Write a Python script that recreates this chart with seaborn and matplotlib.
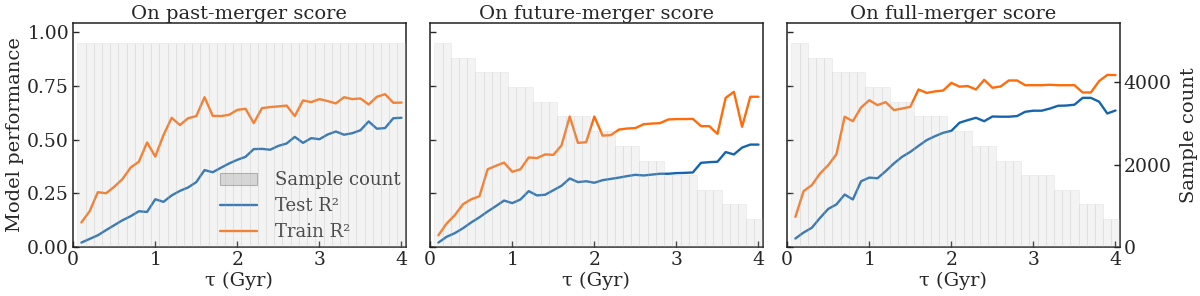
import numpy as np
import pandas as pd
import matplotlib
matplotlib.use("Agg")
import matplotlib.pyplot as plt
from matplotlib.patches import Patch
import seaborn as sns

# ---------------- data ----------------
tau = [round(0.1 * i, 1) for i in range(1, 41)]

past_test = [0.020, 0.037, 0.054, 0.078, 0.101, 0.124, 0.143, 0.166, 0.163, 0.222,
             0.210, 0.240, 0.261, 0.277, 0.302, 0.358, 0.348, 0.369, 0.389, 0.406,
             0.420, 0.456, 0.457, 0.453, 0.471, 0.482, 0.513, 0.485, 0.507, 0.502,
             0.524, 0.538, 0.523, 0.530, 0.544, 0.585, 0.551, 0.554, 0.600, 0.602]
past_train = [0.114, 0.166, 0.255, 0.250, 0.280, 0.316, 0.370, 0.397, 0.487, 0.421,
              0.521, 0.602, 0.568, 0.600, 0.610, 0.698, 0.611, 0.610, 0.616, 0.639,
              0.644, 0.577, 0.647, 0.652, 0.655, 0.659, 0.610, 0.683, 0.675, 0.689,
              0.680, 0.669, 0.698, 0.689, 0.692, 0.664, 0.700, 0.712, 0.672, 0.673]

future_test = [0.020, 0.047, 0.064, 0.087, 0.114, 0.138, 0.165, 0.190, 0.216, 0.204,
               0.221, 0.260, 0.240, 0.243, 0.264, 0.285, 0.319, 0.302, 0.306, 0.299,
               0.311, 0.317, 0.323, 0.330, 0.336, 0.333, 0.337, 0.341, 0.341, 0.344,
               0.345, 0.347, 0.392, 0.395, 0.397, 0.442, 0.431, 0.463, 0.477, 0.477]
future_train = [0.054, 0.109, 0.148, 0.199, 0.222, 0.236, 0.362, 0.378, 0.393, 0.350,
                0.362, 0.417, 0.414, 0.431, 0.429, 0.473, 0.608, 0.485, 0.488, 0.608,
                0.519, 0.521, 0.547, 0.552, 0.554, 0.572, 0.575, 0.577, 0.594, 0.596,
                0.596, 0.597, 0.563, 0.563, 0.527, 0.695, 0.723, 0.560, 0.700, 0.700]

full_test = [0.039, 0.067, 0.089, 0.135, 0.177, 0.198, 0.244, 0.221, 0.306, 0.323,
             0.320, 0.353, 0.389, 0.420, 0.443, 0.471, 0.498, 0.516, 0.532, 0.541,
             0.579, 0.591, 0.602, 0.586, 0.608, 0.607, 0.607, 0.610, 0.630, 0.635,
             0.635, 0.645, 0.658, 0.659, 0.663, 0.695, 0.695, 0.677, 0.622, 0.636]
full_train = [0.140, 0.260, 0.288, 0.342, 0.381, 0.432, 0.607, 0.586, 0.650, 0.684,
              0.661, 0.675, 0.638, 0.645, 0.653, 0.734, 0.718, 0.725, 0.729, 0.765,
              0.747, 0.750, 0.734, 0.779, 0.742, 0.748, 0.776, 0.776, 0.754, 0.754,
              0.754, 0.756, 0.754, 0.754, 0.754, 0.720, 0.720, 0.773, 0.802, 0.801]

past_counts = [4950] * 40
future_counts = [4950, 4950, 4600, 4600, 4600, 4240, 4240, 4240, 4240, 3880,
                 3880, 3880, 3530, 3530, 3530, 3170, 3170, 3170, 3170, 2810,
                 2810, 2810, 2460, 2460, 2460, 2090, 2090, 2090, 1740, 1740,
                 1740, 1740, 1380, 1380, 1380, 1030, 1030, 1030, 670, 670]
full_counts = [4950, 4950, 4600, 4600, 4600, 4240, 4240, 4240, 4240, 3880,
               3880, 3880, 3530, 3530, 3530, 3170, 3170, 3170, 3170, 2810,
               2810, 2810, 2460, 2460, 2460, 2090, 2090, 2090, 1740, 1740,
               1740, 1740, 1380, 1380, 1380, 1030, 1030, 1030, 670, 670]

titles = ["On past-merger score", "On future-merger score", "On full-merger score"]
x_ticks = [0, 1, 2, 3, 4]
y_ticks = [0.0, 0.25, 0.5, 0.75, 1.0]
count_ticks = [0, 2000, 4000]

panels = [
    (past_test, past_train, past_counts),
    (future_test, future_train, future_counts),
    (full_test, full_train, full_counts),
]

# ---------------- style ----------------
sns.set_style("ticks")
plt.rcParams["font.family"] = ["DejaVu Serif"]
plt.rcParams["axes.edgecolor"] = "#222222"
plt.rcParams["axes.linewidth"] = 1.1

BLUE = "#1565ae"
ORANGE = "#ff6c0c"
BAR = "#cccccc"
FS_TICK = 13.5
FS_LABEL = 14
FS_LEG = 13

fig, axes = plt.subplots(1, 3, figsize=(12, 2.96), dpi=100, sharey=True)
fig.subplots_adjust(left=0.061, right=0.933, bottom=0.166, top=0.923, wspace=0.074)

max_count = max(max(c) for _, _, c in panels)

for i, (ax, (test, train, counts)) in enumerate(zip(axes, panels)):
    df = pd.DataFrame({"tau": tau, "test": test, "train": train})
    sns.lineplot(data=df, x="tau", y="test", ax=ax, color=BLUE, lw=1.7, label="Test R²")
    sns.lineplot(data=df, x="tau", y="train", ax=ax, color=ORANGE, lw=1.7, label="Train R²")
    ax.get_legend().remove()

    ax2 = ax.twinx()
    ax2.bar(tau, counts, width=0.1, color=BAR, alpha=0.22,
            edgecolor="#b0b0b0", linewidth=0.5, label="Sample count")
    ax2.set_ylim(0, max_count * 1.1)

    ax.set_xlim(0, 4.05)
    ax.set_ylim(0, 1.045)
    ax.set_xticks(x_ticks)
    ax.set_yticks(y_ticks)
    ax.set_title(titles[i], fontsize=FS_LABEL, pad=3)
    ax.set_xlabel("τ (Gyr)", fontsize=FS_LABEL, labelpad=2)
    ax.tick_params(direction="in", labelsize=FS_TICK, length=4, width=1,
                   top=False, right=False, pad=3)
    if i == 0:
        ax.set_ylabel("Model performance", fontsize=FS_LABEL, labelpad=2)
        ax.set_yticklabels([f"{v:.2f}" for v in y_ticks])
        h, l = ax.get_legend_handles_labels()
        bar_handle = Patch(facecolor="#dadada", edgecolor="#a8a8a8", linewidth=0.8)
        ax.legend([bar_handle] + h, ["Sample count"] + l, loc="lower right",
                  frameon=False, fontsize=FS_LEG, borderaxespad=0.0,
                  borderpad=0.3, labelspacing=0.45, handlelength=2.0,
                  handletextpad=1.0)
    else:
        ax.set_ylabel("")
        ax.tick_params(labelleft=False)

    if i == 2:
        ax2.set_yticks(count_ticks)
        ax2.tick_params(direction="in", labelsize=FS_TICK, length=4, width=1, pad=3)
        ax2.set_ylabel("Sample count", fontsize=FS_LABEL, labelpad=6)
    else:
        ax2.set_yticks([])
    for s in ax2.spines.values():
        s.set_visible(False)

fig.savefig("out.png", dpi=100)
